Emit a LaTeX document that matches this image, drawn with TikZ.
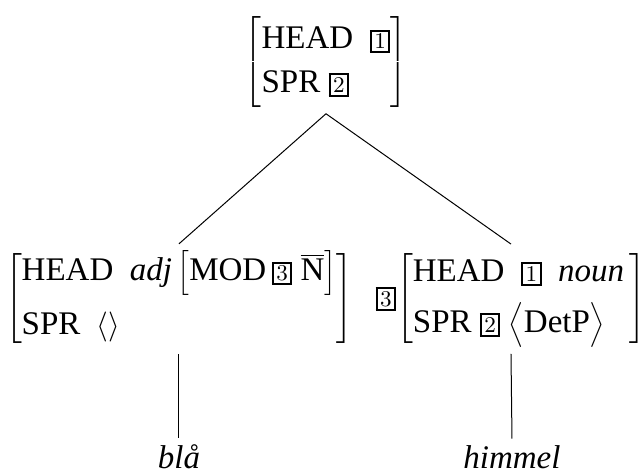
\documentclass[tikz,border=0pt]{standalone}
\usepackage[no-math]{fontspec}
\setmainfont{Liberation Serif}
\usetikzlibrary{calc}

\setlength{\fboxsep}{1pt}
\setlength{\fboxrule}{0.8pt}
\newcommand{\tagbox}[1]{\fbox{$\scriptstyle #1$}}
\renewcommand{\arraystretch}{1.1}

\begin{document}
\begin{tikzpicture}[x=0.4pt,y=-0.4pt,
    avm/.style={inner sep=2.5pt,font=\fontsize{13.2}{15.8}\selectfont},
    word/.style={inner sep=2.5pt,font=\fontsize{13.2}{15.8}\selectfont\itshape}]
  \useasboundingbox (0,0) rectangle (643,473);
  % mother
  \node[avm] (root) at (326,62)
    {\delimitershortfall=-1pt$\left[\begin{tabular}{@{}l@{}}HEAD\ \ \tagbox{1}\\SPR \tagbox{2}\end{tabular}\right]$};
  % daughters
  \node[avm] (adj) at (179,299)
    {$\left[\begin{tabular}{@{}l@{}}HEAD\ \ \textit{adj}\,$\Bigl[$MOD\,\tagbox{3} $\overline{\mbox{N}}$$\Bigr]$\\[4pt]SPR\ \ $\langle\rangle$\end{tabular}\right]$};
  \node[avm] (noun) at (511,299)
    {$\tagbox{3}\!\left[\begin{tabular}{@{}l@{}}HEAD\ \ \tagbox{1}\ \ \textit{noun}\,\\[3pt]SPR \tagbox{2}\ $\Bigl\langle$DetP$\Bigr\rangle$\end{tabular}\right]$};
  % words
  \node[word] (bla) at (179,457) {blå};
  \node[word] (himmel) at (512,457) {himmel};
  \draw (root.south) -- (adj.north);
  \draw (root.south) -- (noun.north);
  \draw (adj.south) -- (bla.north);
  \draw (noun.south) -- (himmel.north);
\end{tikzpicture}
\end{document}
